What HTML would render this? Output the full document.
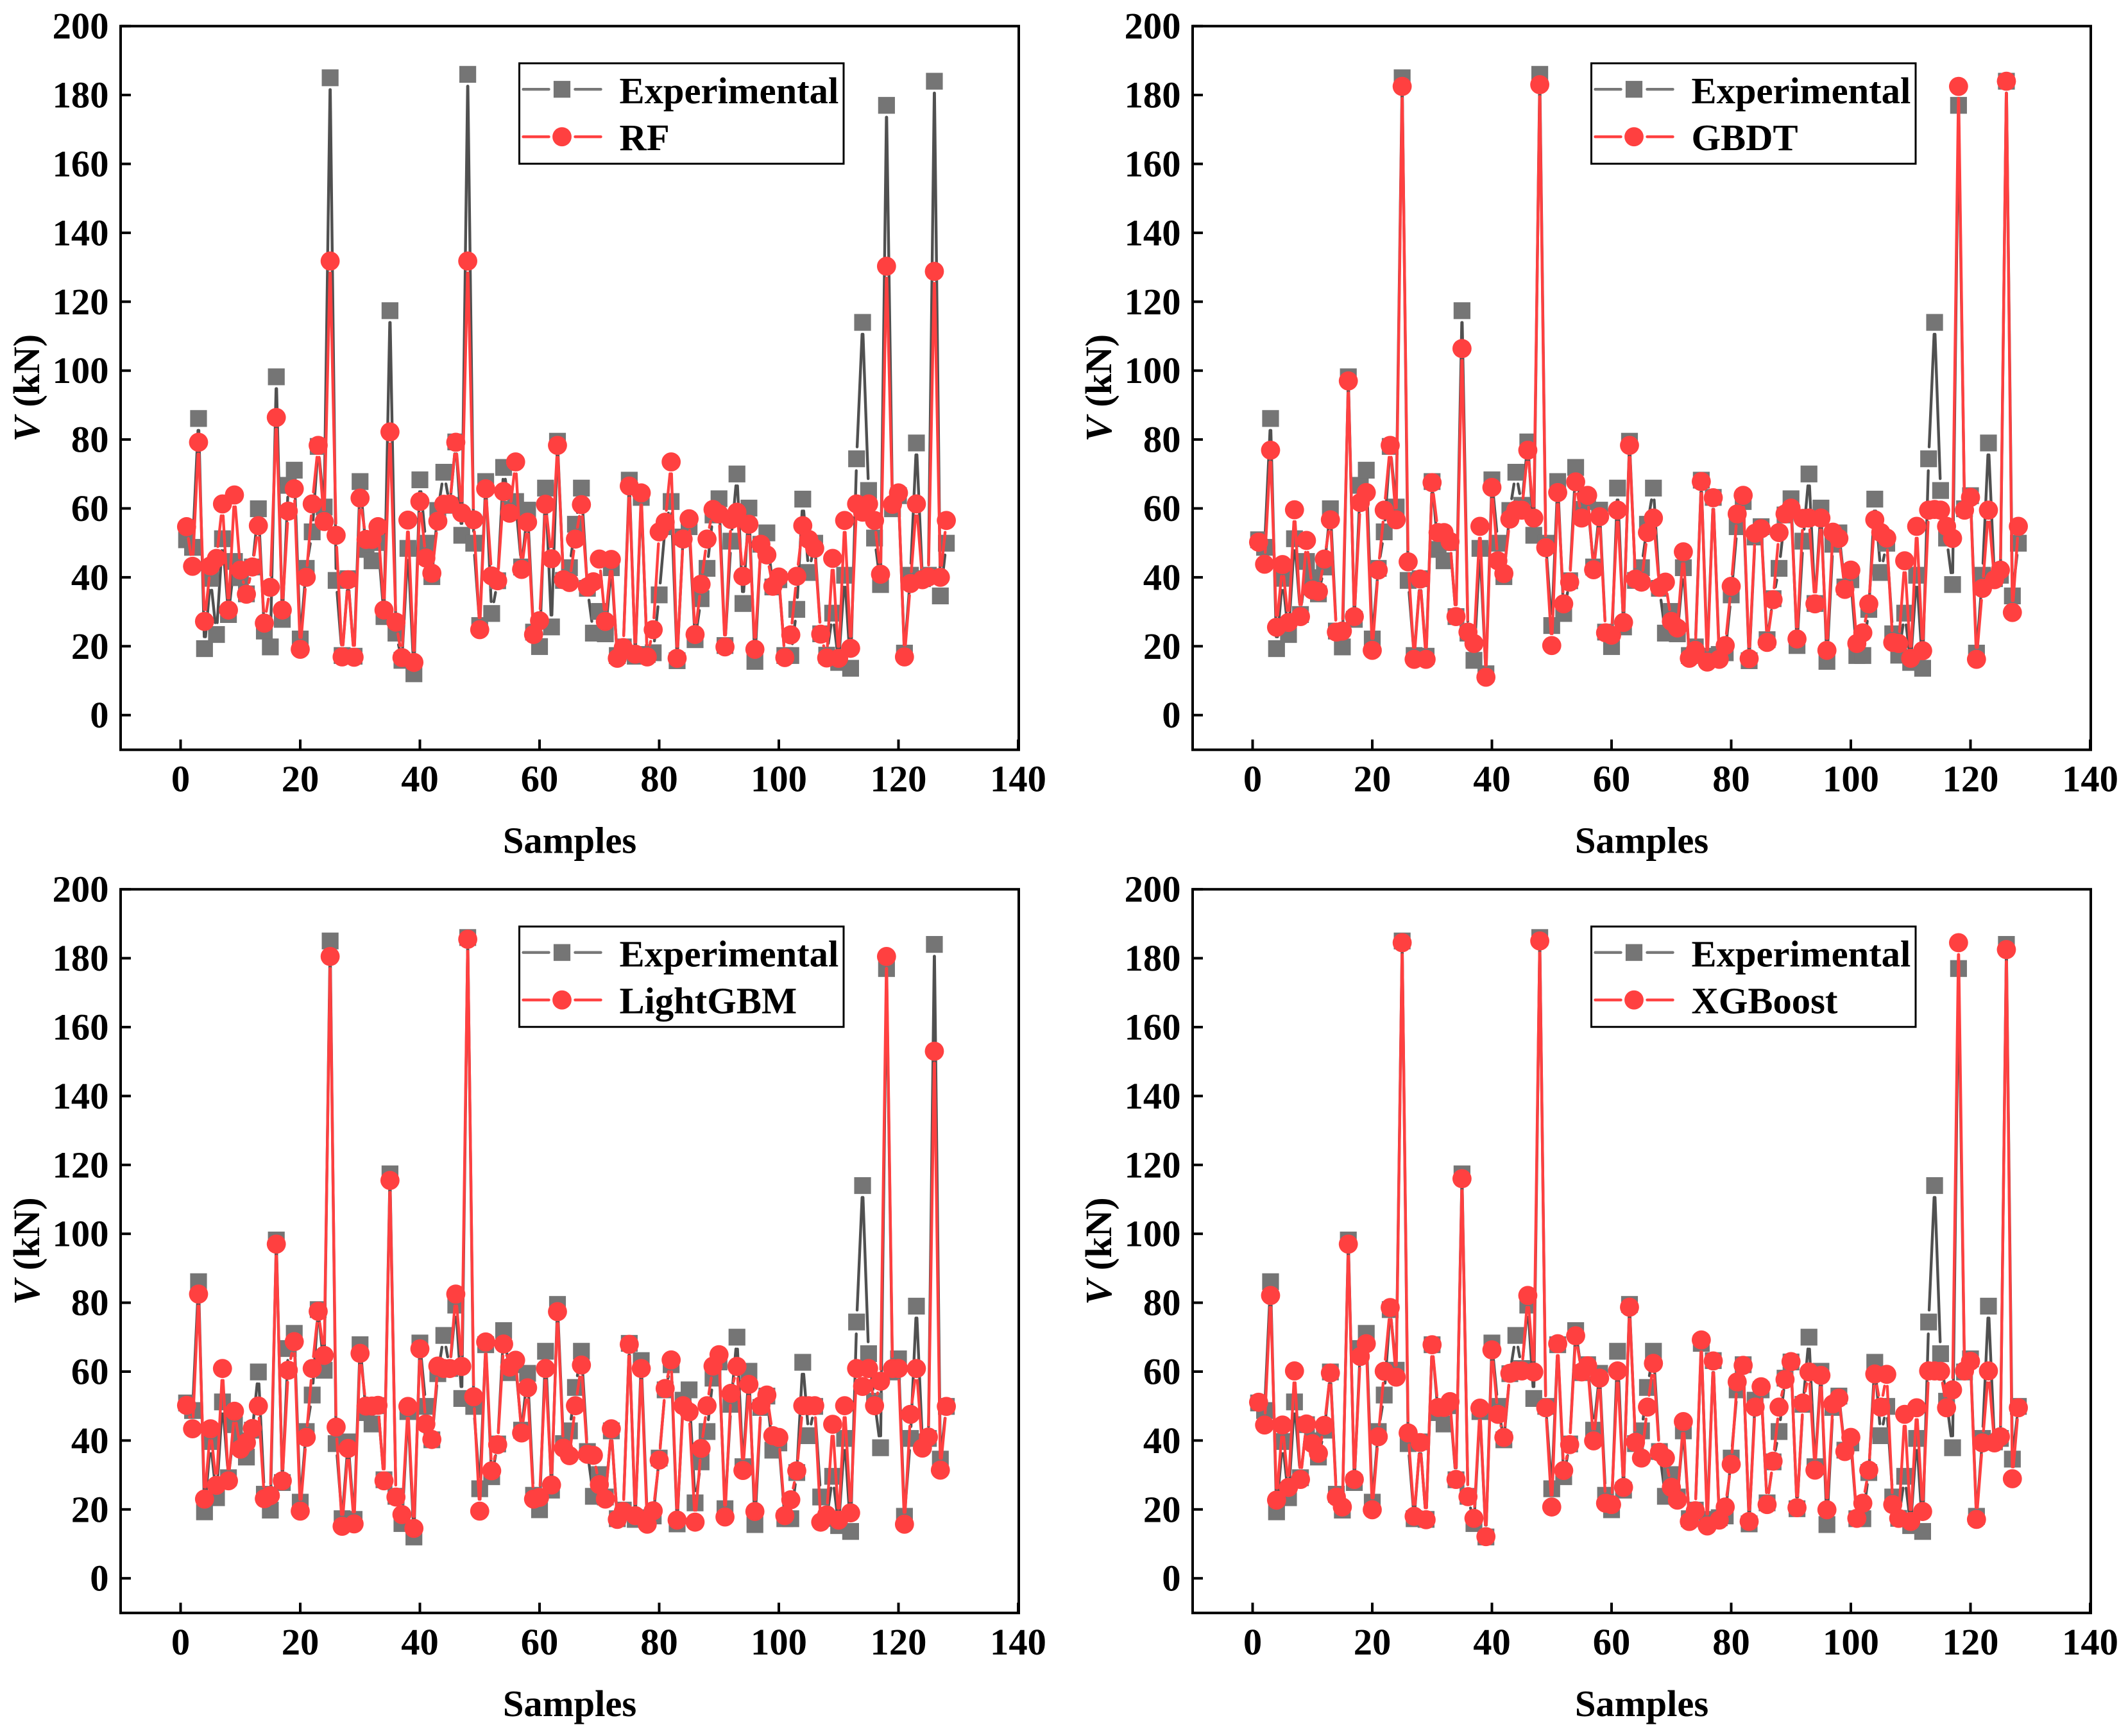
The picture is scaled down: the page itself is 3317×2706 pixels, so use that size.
<!DOCTYPE html>
<html lang="en">
<head>
<meta charset="utf-8">
<title>Experimental vs model predictions of V (kN)</title>
<style>
html,body{margin:0;padding:0;background:#fff;}
svg{display:block;}
text{font-family:"Liberation Serif",serif;font-weight:bold;fill:#000;}
</style>
</head>
<body>
<svg id="figure" xmlns="http://www.w3.org/2000/svg" width="3317" height="2706" viewBox="0 0 3317 2706"></svg>
<script>
const samples = Array.from({length: 128}, (_, k) => k + 1);
const xTickLabels = [0, 20, 40, 60, 80, 100, 120, 140];
const yTickLabels = [0, 20, 40, 60, 80, 100, 120, 140, 160, 180, 200];
const experimental = [
50.9,48.7,86.1,19.3,39.7,23.4,51.2,29.2,44.6,39.9,
35.2,43,59.9,24.4,19.8,98.2,27.8,66.7,71.1,22.1,
42.6,53.2,78,60.4,185,39.1,17.3,39.6,17.1,67.8,
48.1,44.8,50.1,28.6,117.4,23.8,15.9,48.4,12,68.3,
49.9,40.2,59.4,70.5,60.9,79.3,52.2,186,49.9,26,
67.8,29.5,39,71.9,59.7,62,43,59.5,24.1,19.9,
65.9,25.6,79.5,39.1,42.8,55.4,65.9,36.8,23.8,30.1,
23.6,42.8,17.3,19.8,68.2,17.1,63.2,17.6,18.1,34.9,
54.7,62,15.8,51.7,54.7,21.9,33.8,42.6,58.1,62.8,
20.2,50.5,70,32.4,60.1,15.6,49.6,52.9,37.2,39.3,
17.3,17.3,30.7,62.7,41.4,49.9,23.6,17.4,29.6,15.3,
40.6,13.6,74.4,114,65.2,51.4,37.9,177,59.9,63.7,
18,40.6,79,39.6,40.6,184,34.6,49.9];
const rfValues = [
54.7,43.2,79.2,27.2,43.3,45.5,61.3,30.5,63.9,42.1,
35.1,43,55,26.7,37.1,86.4,30.5,59.2,65.7,19.1,
40,61.3,78.3,56.2,131.8,52.2,16.9,39.3,16.8,63,
51,51,54.7,30.5,82.2,27,16.7,56.6,15.3,62,
45.6,41.2,56.3,61.2,61.3,79.2,58.7,131.8,56.7,24.8,
65.7,40.4,39,64.9,58.6,73.5,42.3,56,23.4,27.4,
61.2,45.4,78.3,39.3,38.5,51.1,61.1,37.2,38.7,45.3,
27.2,45.2,16.5,19.6,66.5,17.7,64.5,16.9,24.8,53.2,
56,73.5,16.5,51.1,57,23.4,38,51.1,59.7,58.4,
19.8,56.8,58.9,40.3,55.4,19.1,49.6,46.5,37.4,40.1,
16.7,23.3,40.3,55,51,48.4,23.5,16.6,45.5,16.5,
56.5,19.4,61.3,58.9,61.3,56.5,40.9,130.3,61.2,64.5,
16.9,38.2,61.3,39.3,40.1,128.8,40,56.5];
const gbdtValues = [
50.2,43.8,76.9,25.5,43.7,26.9,59.6,28.6,50.7,36.3,
35.9,45.3,56.7,24.1,24.4,97,28.6,61.7,64.6,18.8,
42.1,59.5,78.3,56.7,182.5,44.5,16.2,39.5,16.2,67.5,
53,53,50.4,28.6,106.4,24.1,20.8,54.8,11,66.1,
44.8,41.1,56.9,59.5,59.5,76.9,57.2,183,48.6,20.2,
64.6,32.3,38.6,67.7,57.2,63.8,42.2,57.6,23.9,23.2,
59.5,26.9,78.3,39.5,38.6,53,57.2,37.1,38.6,27.2,
25.3,47.4,16.5,18.8,67.8,15.4,63.1,16.2,20.2,37.4,
58.4,63.8,16.4,52.8,54.1,21.1,33.5,53,58.4,60.1,
22.1,57.1,57.2,32.3,57.2,18.8,53.1,51.3,36.5,42.1,
20.8,23.9,32.3,56.7,53,51.4,21.1,20.8,44.8,16.5,
54.8,18.7,59.5,59.7,59.5,54.8,51.3,182.5,59.5,63.2,
16.2,36.8,59.5,39.3,42.1,184,29.8,54.8];
const lightgbmValues = [
50.2,43.4,82.5,23,43.4,27,60.9,28.3,48.5,37.5,
39.4,43.5,50,23.1,24,97,28.3,60.4,68.7,19.5,
40.9,60.9,77.5,64.7,180.5,43.9,15.1,37.7,15.8,65.3,
50,50,50.2,28.3,115.5,23.6,18.5,49.9,14.5,66.6,
44.8,40.3,61.6,60.9,60.9,82.5,61.5,185.5,52.7,19.5,
68.6,31.2,38.8,68,61.3,63.3,42.2,55.3,23,23.5,
60.9,27.1,77.4,37.8,35.6,50.1,61.9,36,35.7,27.2,
23,43.4,17.1,19.4,67.9,18.2,60.9,15.7,19.6,34.3,
55.1,63.4,16.9,50.1,48.3,16.3,37.7,50.1,61.6,64.9,
17.8,53.7,61.5,31.3,56.3,19.4,50.1,53.2,41.4,40.9,
18.2,22.8,31.2,50.1,50.1,50.1,16.3,18.4,44.7,16.9,
50.1,19,60.9,55.7,60.9,50.1,57.2,180.5,60.9,60.9,
15.7,47.6,60.9,37.8,41,153,31.4,49.9];
const xgboostValues = [
51.1,44.5,82.1,22.7,44.5,26.4,60.2,28.7,44.8,39.1,
36.3,44.4,59.6,23.6,20.7,97,28.7,64.4,68.1,19.9,
41.1,60.1,78.6,58.4,184.5,42.2,18,39.4,17,67.8,
49.6,49.6,51.3,28.7,116,23.7,17.4,49.4,12.1,66.3,
47.6,40.9,59.5,60.2,60.2,82.1,59.9,185,49.5,20.7,
68.1,31.3,38.8,70.4,59.9,61.7,39.9,58.1,21.8,21.4,
60.2,26.4,78.7,39.5,34.9,49.7,62.4,36.6,34.9,26.4,
22.7,45.5,16.5,19.6,69.2,15.2,63.1,16.9,20.7,33.1,
57,61.8,16.5,49.7,55.6,21.4,34,49.7,57.7,62.9,
20.5,50.9,59.9,31.4,58.9,19.9,50.6,52.3,36.8,40.9,
17.4,21.8,31.4,59.3,49.7,59.2,21.4,17.4,47.6,16.5,
49.5,19.4,60.2,60.2,60.1,49.5,54.7,184.5,60.2,63,
17.1,39.3,60.2,39.3,41.1,182.5,28.9,49.5];
const modelNames = ["RF", "GBDT", "LightGBM", "XGBoost"];
const modelSeries = [rfValues, gbdtValues, lightgbmValues, xgboostValues];

const SVG_NS = "http://www.w3.org/2000/svg";
const figure = document.getElementById("figure");
const PANEL_W = 1400, PANEL_H = 1128, SHIFT_X = 1671, SHIFT_Y = 1345.5;
const FONT = 58.6, GAP = 18.5;
const RED = "#ff4040", GREY_MARK = "#757575", GREY_LINE = "#505050";

function make(tag, parent, attrs, content) {
  const el = document.createElementNS(SVG_NS, tag);
  for (const key in attrs) el.setAttribute(key, attrs[key]);
  if (content !== undefined) el.textContent = content;
  parent.appendChild(el);
  return el;
}

function drawSeriesLine(group, values, xAxis, yAxis, color, seriesName) {
  for (let k = 0; k + 1 < values.length; k++) {
    const x1 = xAxis(samples[k]), y1 = yAxis(values[k]);
    const x2 = xAxis(samples[k + 1]), y2 = yAxis(values[k + 1]);
    const dist = Math.hypot(x2 - x1, y2 - y1);
    if (dist <= 2 * GAP) continue;
    const ux = (x2 - x1) / dist, uy = (y2 - y1) / dist;
    const seg = make("line", group, {x1: x1 + ux * GAP, y1: y1 + uy * GAP, x2: x2 - ux * GAP, y2: y2 - uy * GAP, stroke: color, "stroke-width": 4.4, "stroke-linecap": "round"});
    
    
  }
}

function drawPanel(name, predicted, column, row) {
  const left = 188 + column * SHIFT_X;
  const top = 40.7 + row * SHIFT_Y;
  const xAxis = v => left + 93.5 + v * 9.325;
  const yAxis = v => top + (200 - v) * 5.37;
  const slug = name.toLowerCase();

  const panel = make("g", figure, {});
  
  

  const frame = make("rect", panel, {x: left, y: top, width: PANEL_W, height: PANEL_H, fill: "none", stroke: "#000", "stroke-width": 4});
  
  

  for (const t of xTickLabels) {
    const tick = make("line", panel, {x1: xAxis(t), x2: xAxis(t), y1: top + PANEL_H, y2: top + PANEL_H - 16, stroke: "#000", "stroke-width": 4});
    
    
    const label = make("text", panel, {x: xAxis(t), y: top + PANEL_H + 65, "text-anchor": "middle", "font-size": FONT}, String(t));
    
    
  }
  for (const t of yTickLabels) {
    const tick = make("line", panel, {x1: left, x2: left + 16, y1: yAxis(t), y2: yAxis(t), stroke: "#000", "stroke-width": 4});
    
    
    const label = make("text", panel, {x: left - 18.5, y: yAxis(t) + 19.5, "text-anchor": "end", "font-size": FONT}, String(t));
    
    
  }

  const xTitle = make("text", panel, {x: left + PANEL_W / 2, y: top + PANEL_H + 161, "text-anchor": "middle", "font-size": FONT}, "Samples");
  
  

  const titleY = top + PANEL_H / 2;
  const yTitle = make("text", panel, {transform: "translate(" + (left - 127) + " " + titleY + ") rotate(-90)", "text-anchor": "middle", "font-size": FONT});
  
  
  make("tspan", yTitle, {"font-style": "italic"}, "V");
  make("tspan", yTitle, {}, " (kN)");

  const expGroup = make("g", panel, {});
  
  
  drawSeriesLine(expGroup, experimental, xAxis, yAxis, GREY_LINE, "experimental");
  experimental.forEach((v, k) => {
    const mark = make("rect", expGroup, {x: xAxis(samples[k]) - 13.1, y: yAxis(v) - 13.1, width: 26.2, height: 26.2, fill: GREY_MARK});
    
    
  });

  const predGroup = make("g", panel, {});
  
  
  drawSeriesLine(predGroup, predicted, xAxis, yAxis, RED, slug);
  predicted.forEach((v, k) => {
    const mark = make("circle", predGroup, {cx: xAxis(samples[k]), cy: yAxis(v), r: 14.9, fill: RED});
    
    
  });

  const lx = left + 621.5, ly = top + 58;
  const legend = make("g", panel, {});
  
  
  const box = make("rect", legend, {x: lx, y: ly, width: 505.5, height: 156.5, fill: "#fff", stroke: "#000", "stroke-width": 3});
  
  

  const expLineA = make("line", legend, {x1: lx + 6, x2: lx + 46, y1: ly + 40.5, y2: ly + 40.5, stroke: "#777", "stroke-width": 4.4, "stroke-linecap": "round"});
  
  
  const expLineB = make("line", legend, {x1: lx + 87, x2: lx + 127, y1: ly + 40.5, y2: ly + 40.5, stroke: "#777", "stroke-width": 4.4, "stroke-linecap": "round"});
  
  
  const expSwatch = make("rect", legend, {x: lx + 53.4, y: ly + 27.4, width: 26.2, height: 26.2, fill: GREY_MARK});
  
  
  const expLabel = make("text", legend, {x: lx + 156, y: ly + 62.5, "font-size": FONT}, "Experimental");
  
  

  const modelLineA = make("line", legend, {x1: lx + 6, x2: lx + 46, y1: ly + 114.5, y2: ly + 114.5, stroke: RED, "stroke-width": 4.4, "stroke-linecap": "round"});
  
  
  const modelLineB = make("line", legend, {x1: lx + 87, x2: lx + 127, y1: ly + 114.5, y2: ly + 114.5, stroke: RED, "stroke-width": 4.4, "stroke-linecap": "round"});
  
  
  const modelSwatch = make("circle", legend, {cx: lx + 66.5, cy: ly + 114.5, r: 14.9, fill: RED});
  
  
  const modelLabel = make("text", legend, {x: lx + 156, y: ly + 135.5, "font-size": FONT}, name);
  
  
}

modelNames.forEach((name, k) => {
  drawPanel(name, modelSeries[k], k % 2, Math.floor(k / 2));
});
</script>
</body>
</html>
